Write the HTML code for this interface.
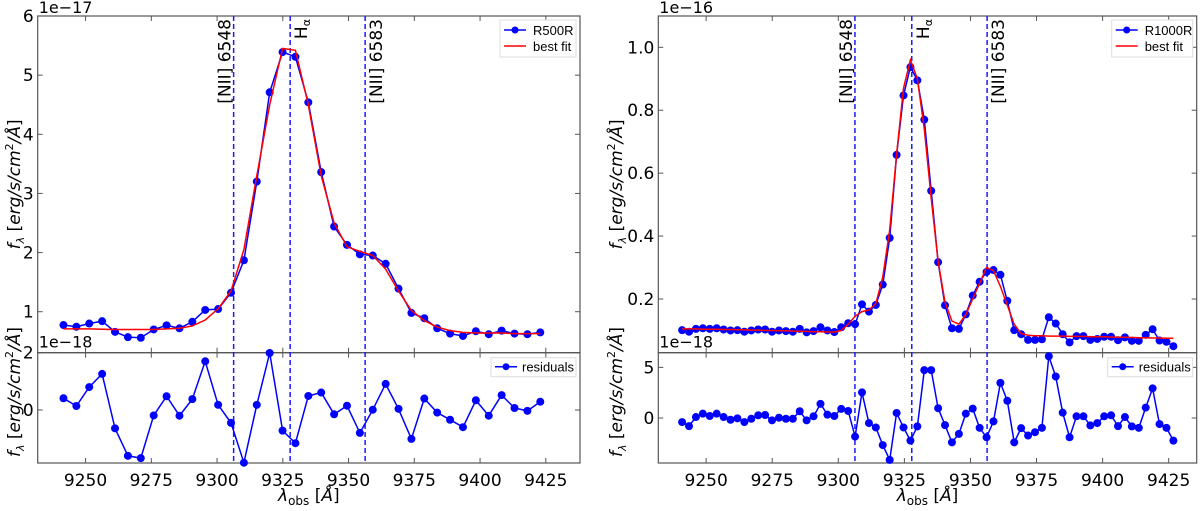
<!DOCTYPE html>
<html><head><meta charset="utf-8"><style>
body{margin:0;background:#fff}
svg text{font-family:"DejaVu Sans","Liberation Sans",sans-serif;fill:#000}
svg text.lg{font-family:"Liberation Sans",sans-serif}
</style></head><body>
<svg id="c" width="1200" height="506" xmlns="http://www.w3.org/2000/svg"></svg>
<script>
const lamL = [9241.6,9246.5,9251.4,9256.3,9261.2,9266.1,9271.0,9275.9,9280.8,9285.7,9290.6,9295.5,9300.4,9305.3,9310.2,9315.1,9320.0,9324.9,9329.8,9334.7,9339.6,9344.5,9349.4,9354.3,9359.2,9364.1,9369.0,9373.9,9378.8,9383.7,9388.6,9393.5,9398.4,9403.3,9408.2,9413.1,9418.0,9422.9];
const fluxL = [0.775,0.746,0.80,0.84,0.66,0.57,0.56,0.70,0.77,0.72,0.83,1.03,1.045,1.32,1.87,3.20,4.71,5.39,5.31,4.54,3.36,2.44,2.13,1.97,1.95,1.81,1.39,0.98,0.89,0.72,0.63,0.59,0.67,0.62,0.68,0.63,0.62,0.65];
const fitL = [0.71,0.71,0.71,0.705,0.70,0.70,0.70,0.70,0.71,0.72,0.76,0.86,1.05,1.35,2.05,3.3,4.5,5.45,5.42,4.5,3.3,2.5,2.1,2.02,1.95,1.72,1.35,1.02,0.85,0.74,0.68,0.65,0.64,0.64,0.64,0.63,0.63,0.63];
const resL = [0.41,0.14,0.80,1.26,-0.64,-1.6,-1.68,-0.19,0.48,-0.2,0.38,1.7,0.18,-0.45,-1.84,0.18,1.99,-0.72,-1.16,0.49,0.61,-0.15,0.15,-0.8,0.01,0.91,0.04,-1.01,0.4,-0.09,-0.34,-0.6,0.34,-0.2,0.52,0.07,-0.03,0.29];
const fluxR = [0.101,0.096,0.105,0.107,0.105,0.107,0.103,0.10,0.101,0.096,0.10,0.103,0.103,0.096,0.10,0.098,0.096,0.105,0.094,0.098,0.11,0.10,0.095,0.11,0.123,0.12,0.183,0.16,0.181,0.246,0.394,0.658,0.847,0.937,0.895,0.77,0.544,0.317,0.18,0.107,0.105,0.151,0.211,0.255,0.286,0.292,0.277,0.194,0.101,0.088,0.07,0.07,0.072,0.142,0.122,0.088,0.062,0.082,0.082,0.07,0.073,0.08,0.08,0.069,0.078,0.067,0.067,0.086,0.104,0.068,0.064,0.05];
const fitR = [0.105,0.105,0.105,0.104,0.104,0.104,0.103,0.103,0.102,0.102,0.101,0.101,0.100,0.100,0.099,0.099,0.098,0.097,0.097,0.096,0.096,0.095,0.095,0.1,0.12,0.145,0.16,0.165,0.185,0.27,0.42,0.66,0.87,0.96,0.9,0.74,0.52,0.32,0.19,0.13,0.12,0.15,0.2,0.25,0.30,0.29,0.24,0.18,0.12,0.09,0.085,0.083,0.083,0.082,0.082,0.082,0.081,0.081,0.081,0.080,0.080,0.080,0.079,0.079,0.078,0.078,0.077,0.077,0.076,0.076,0.075,0.075];
const resR = [-0.4,-0.8,0.1,0.43,0.2,0.43,0.1,-0.17,-0.03,-0.4,-0.07,0.27,0.3,-0.23,0.03,-0.07,-0.07,0.67,-0.23,0.17,1.4,0.33,0.2,0.9,0.7,-1.83,2.53,-0.5,-0.93,-2.67,-4.13,0.5,-0.93,-2.23,-0.83,4.73,4.73,0.97,-0.7,-2.4,-1.57,0.43,0.93,-0.97,-1.9,-0.33,3.47,1.7,-2.4,-1.0,-1.73,-1.4,-0.97,6.1,4.1,0.53,-1.9,0.17,0.17,-0.73,-0.5,0.17,0.27,-0.8,0.1,-0.83,-0.97,1.03,2.93,-0.6,-0.97,-2.23];
const lamR0 = 9240.9, lamRstep = 2.618;
const lamR = fluxR.map((_,i)=>+(lamR0+i*lamRstep).toFixed(2));
const xTicks = [9250,9275,9300,9325,9350,9375,9400,9425];
const lines = [9306.3,9327.8,9356.3];
const lineLabels = ["[NII] 6548","H\u03b1","[NII] 6583"];
const yTicksTopL = [1,2,3,4,5,6], yTicksBotL = [0,2];
const yTicksTopR = [0.2,0.4,0.6,0.8,1.0], yTicksBotR = [0,5];

const svg = document.getElementById('c');
const NS = 'http://www.w3.org/2000/svg';
function mk(tag, attrs, parent){const e=document.createElementNS(NS,tag);for(const k in attrs)e.setAttribute(k,attrs[k]);(parent||svg).appendChild(e);return e;}
const YLAB='<tspan font-style="italic">f</tspan><tspan font-size="11" dy="4" font-style="italic">\u03bb</tspan><tspan dy="-4"> [</tspan><tspan font-style="italic">erg/s/cm</tspan><tspan font-size="11" dy="-7">2</tspan><tspan dy="7" font-style="italic">/\u00c5</tspan>]';

function panel(p){
  const g = mk('g',{});
  
  
  const X = l => p.x0 + (l - p.l0)/(p.l1 - p.l0)*(p.x1 - p.x0);
  const Yt = v => p.yb - (v - p.t0)/(p.t1 - p.t0)*(p.yb - p.yt);
  const Yr = v => p.ybb - (v - p.r0)/(p.r1 - p.r0)*(p.ybb - p.yb);
  const f1 = mk('rect',{x:p.x0,y:p.yt,width:p.x1-p.x0,height:p.yb-p.yt,fill:'none',stroke:'#555','stroke-width':1.2},g);
  
  
  const f2 = mk('rect',{x:p.x0,y:p.yb,width:p.x1-p.x0,height:p.ybb-p.yb,fill:'none',stroke:'#555','stroke-width':1.2},g);
  
  
  xTicks.forEach(t=>{
    const x=X(t);
    [[p.yt,p.yt+5],[p.yb,p.yb-5],[p.yb,p.yb+5],[p.ybb,p.ybb-5]].forEach(s=>mk('line',{x1:x,x2:x,y1:s[0],y2:s[1],stroke:'#555','stroke-width':1},g));
    const tl = mk('text',{x:x,y:p.ybb+23,'font-size':17,'text-anchor':'middle'},g);
    tl.textContent=t;
    
    
  });
  p.tt.forEach(t=>{
    const y=Yt(t);
    mk('line',{x1:p.x0,x2:p.x0+5,y1:y,y2:y,stroke:'#555'},g);
    mk('line',{x1:p.x1,x2:p.x1-5,y1:y,y2:y,stroke:'#555'},g);
    const tl = mk('text',{x:p.x0-4,y:y+6,'font-size':17,'text-anchor':'end'},g);
    tl.textContent=p.fmt(t);
    
    
  });
  p.rt.forEach(t=>{
    const y=Yr(t);
    mk('line',{x1:p.x0,x2:p.x0+5,y1:y,y2:y,stroke:'#555'},g);
    mk('line',{x1:p.x1,x2:p.x1-5,y1:y,y2:y,stroke:'#555'},g);
    const tl = mk('text',{x:p.x0-4,y:y+6,'font-size':17,'text-anchor':'end'},g);
    tl.textContent=t;
    
    
  });
  const o1 = mk('text',{x:p.x0+1,y:p.yt-3,'font-size':16},g); o1.textContent=p.off1;
  
  
  const o2 = mk('text',{x:p.x0+1,y:p.yb-5,'font-size':16},g); o2.textContent='1e\u221218';
  
  
  lines.forEach((l,i)=>{
    const x=X(l);
    const vl = mk('line',{x1:x,x2:x,y1:p.yt,y2:p.ybb,stroke:'#1a1aff','stroke-width':1.5,'stroke-dasharray':'5,3'},g);
    
    
    const right = i>0;
    const tx = right ? x+4 : x-3;
    const t = mk('text',{transform:`translate(${right?tx+13:tx},${p.yt+3}) rotate(-90)`,'font-size':17,'text-anchor':'end'},g);
    if(i===1){ t.innerHTML='H<tspan font-size="11" dy="3">\u03b1</tspan>'; }
    else t.textContent=lineLabels[i];
    
    
  });
  const pts=(xs,ys,F)=>xs.map((l,i)=>X(l).toFixed(1)+','+F(ys[i]).toFixed(1)).join(' ');
  const dl = mk('polyline',{points:pts(p.lam,p.flux,Yt),fill:'none',stroke:'#0000ff','stroke-width':1.5},g);
  
  
  p.lam.forEach((l,i)=>{
    const c=mk('circle',{cx:X(l),cy:Yt(p.flux[i]),r:4,fill:'#0000ff'},g);
    
    
  });
  const fl = mk('polyline',{points:pts(p.lam,p.fit,Yt),fill:'none',stroke:'#ff0000','stroke-width':1.5},g);
  
  
  const rl = mk('polyline',{points:pts(p.lam,p.res,Yr),fill:'none',stroke:'#0000ff','stroke-width':1.5},g);
  
  
  p.lam.forEach((l,i)=>{
    const c=mk('circle',{cx:X(l),cy:Yr(p.res[i]),r:4,fill:'#0000ff'},g);
    
    
  });
  const lg = mk('g',{},g);
  
  
  const lx = p.x1-4-p.lw;
  mk('rect',{x:lx,y:p.yt+4,width:p.lw,height:37,fill:'#fff',stroke:'#ddd'},lg);
  mk('line',{x1:lx+4,x2:lx+26,y1:p.yt+14,y2:p.yt+14,stroke:'#0000ff','stroke-width':1.5},lg);
  mk('circle',{cx:lx+15,cy:p.yt+14,r:3.5,fill:'#0000ff'},lg);
  const a=mk('text',{x:lx+33,y:p.yt+19,'font-size':13,'class':'lg'},lg); a.textContent=p.lab;
  mk('line',{x1:lx+4,x2:lx+26,y1:p.yt+30,y2:p.yt+30,stroke:'#ff0000','stroke-width':1.5},lg);
  const b=mk('text',{x:lx+33,y:p.yt+35,'font-size':13,'class':'lg'},lg); b.textContent='best fit';
  const lg2 = mk('g',{},g);
  
  
  const rx = p.x1-4-85;
  mk('rect',{x:rx,y:p.yb+5,width:85,height:19,fill:'#fff',stroke:'#ddd'},lg2);
  mk('line',{x1:rx+4,x2:rx+26,y1:p.yb+14,y2:p.yb+14,stroke:'#0000ff','stroke-width':1.5},lg2);
  mk('circle',{cx:rx+15,cy:p.yb+14,r:3.5,fill:'#0000ff'},lg2);
  const r=mk('text',{x:rx+31,y:p.yb+19,'font-size':13,'class':'lg'},lg2); r.textContent='residuals';
  const yl=mk('text',{transform:`translate(${p.ylx},${(p.yt+p.yb)/2}) rotate(-90)`,'font-size':17,'text-anchor':'middle'},g);
  yl.innerHTML=YLAB;
  
  
  const yl2=mk('text',{transform:`translate(${p.ylx},${p.ybb-6}) rotate(-90)`,'font-size':17,'text-anchor':'start'},g);
  yl2.innerHTML=YLAB;
  
  
  const xl=mk('text',{x:(p.x0+p.x1)/2,y:p.ybb+38,'font-size':17,'text-anchor':'middle'},g);
  xl.innerHTML='<tspan font-style="italic">\u03bb</tspan><tspan font-size="12" dy="4">obs</tspan><tspan dy="-4"> [</tspan><tspan font-style="italic">\u00c5</tspan>]';
  
  
}
panel({name:'r500r-panel',x0:37.7,x1:580,l0:9231.8,l1:9438.0,yt:16,yb:352.7,ybb:463,t0:0.307,t1:6,r0:-1.85,r1:2,ylx:20,
  tt:yTicksTopL,rt:yTicksBotL,fmt:t=>t,off1:'1e\u221217',lam:lamL,flux:fluxL,fit:fitL,res:resL,lab:'R500R',lw:76});
panel({name:'r1000r-panel',x0:658.3,x1:1196.7,l0:9231.9,l1:9435.6,yt:16,yb:352.7,ybb:463,t0:0.0293,t1:1.0995,r0:-4.44,r1:6.45,ylx:622,
  tt:yTicksTopR,rt:yTicksBotR,fmt:t=>t.toFixed(1),off1:'1e\u221216',lam:lamR,flux:fluxR,fit:fitR,res:resR,lab:'R1000R',lw:81});
</script>
</body></html>
